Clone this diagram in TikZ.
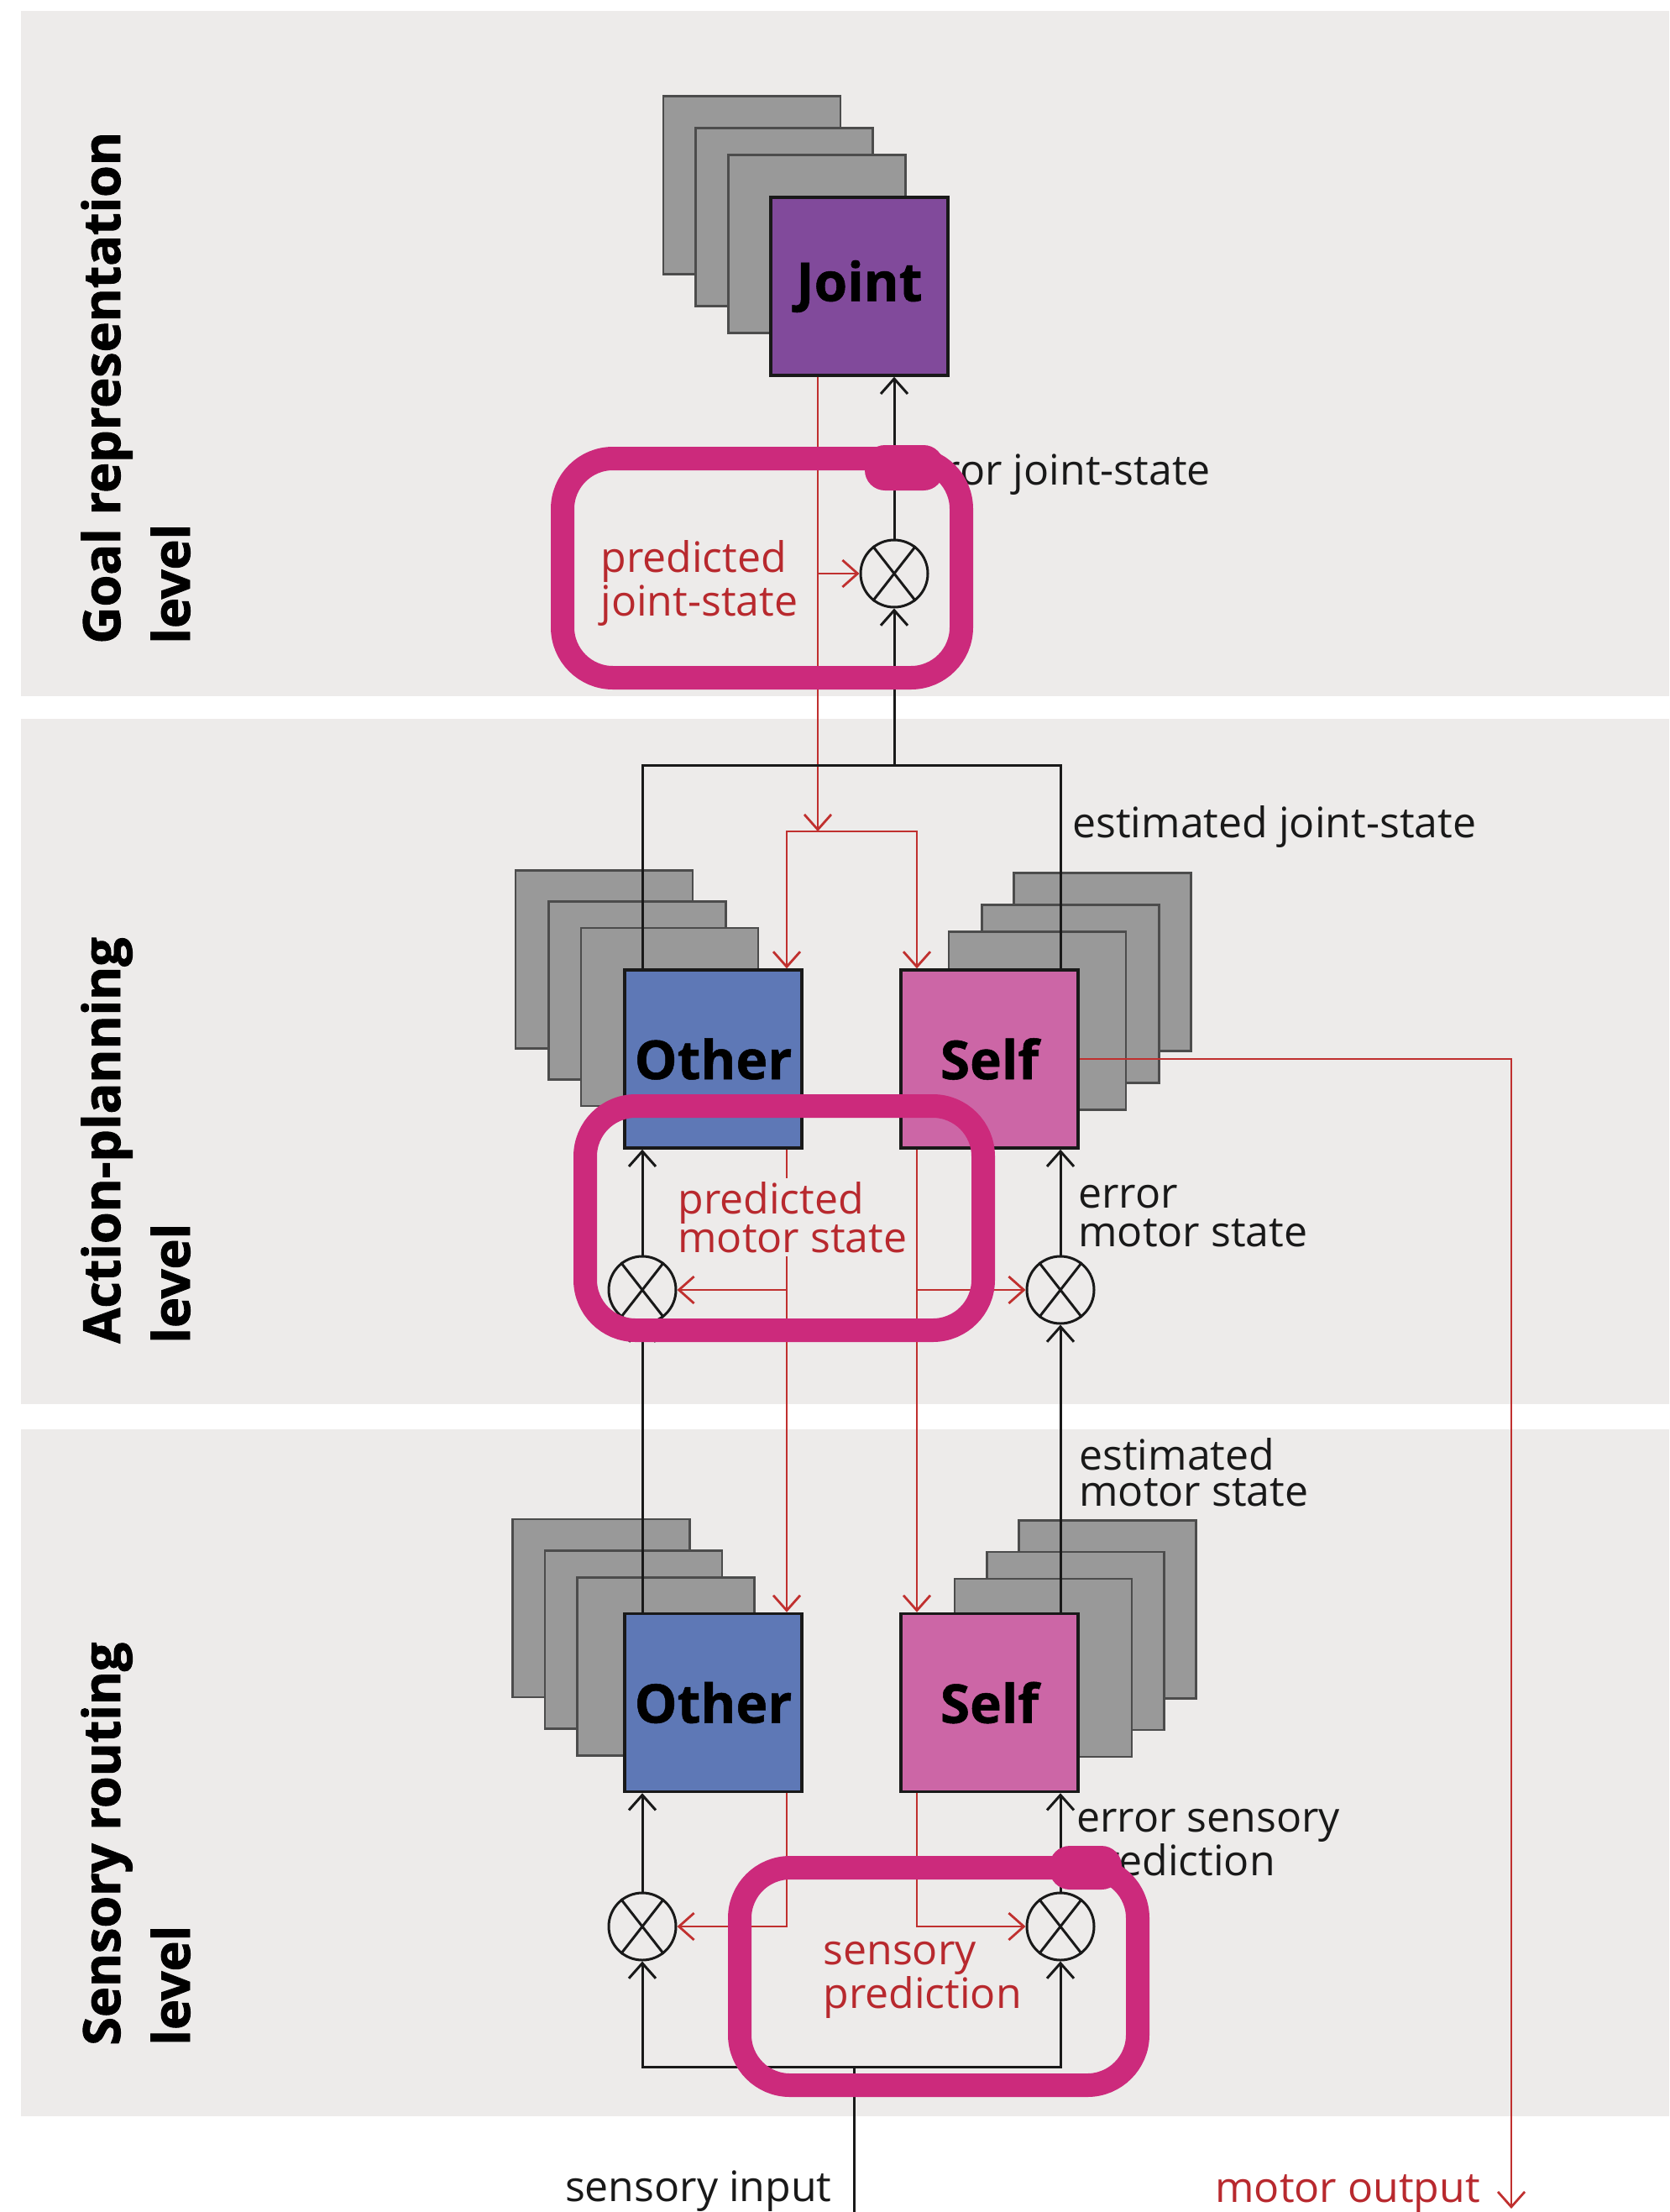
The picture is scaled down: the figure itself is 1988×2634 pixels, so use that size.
\documentclass[tikz,border=0pt]{standalone}
\usepackage{fontspec}
\setmainfont{Open Sans}
\newfontfamily\heavyfont{Open Sans}[BoldFeatures={FakeBold=1.6}]
\newfontfamily\unitfont{Open Sans}[BoldFeatures={FakeBold=0.8}]
\usetikzlibrary{arrows.meta}
\definecolor{panel}{HTML}{EDEBEA}
\definecolor{boxgray}{HTML}{999999}
\definecolor{jointc}{HTML}{814A9B}
\definecolor{otherc}{HTML}{5E78B6}
\definecolor{selfc}{HTML}{CC66A6}
\definecolor{redln}{HTML}{C0302F}
\definecolor{redtx}{HTML}{B8292E}
\definecolor{hilite}{HTML}{CC2A7C}
\tikzset{
 back/.style={draw=black!70, line width=1.3pt, fill=boxgray, minimum width=105.5pt, minimum height=106pt, inner sep=0},
 unit/.style={draw=black!90, line width=1.7pt, minimum width=105.5pt, minimum height=106pt, inner sep=0, font=\unitfont\fontsize{32}{36}\selectfont\bfseries},
 comp/.style={circle, draw=black!90, line width=1.5pt, minimum size=40pt, inner sep=0},
 bl/.style={draw=black!90, line width=1.5pt},
 rl/.style={draw=redln, line width=1.4pt},
 lab/.style={font=\fontsize{25}{22}\selectfont, text=black!90, align=left, inner sep=0, anchor=base west},
 rlab/.style={lab, text=redtx},
 lvl/.style={rotate=90, anchor=base west, inner sep=0, font=\heavyfont\fontsize{30.5}{36}\selectfont\bfseries},
 hl/.style={draw=hilite, line width=14pt, rounded corners=30pt},
 blob/.style={fill=hilite, rounded corners=12pt},
 >={Straight Barb[length=9pt,width=16pt]},
}
\begin{document}
\begin{tikzpicture}[x=0.5pt,y=-0.5pt]
\useasboundingbox (0,0) rectangle (1988,2634);
% panels
\fill[panel] (25,13) rectangle (1988,829);
\fill[panel] (25,856) rectangle (1988,1672);
\fill[panel] (25,1702) rectangle (1988,2520);
% level labels
\node[lvl] (l1a) at (143,767) {Goal representation};
\node[lvl] (l1b) at (226,767) {level};
\node[lvl] (l2a) at (143,1600) {Action-planning};
\node[lvl] (l2b) at (226,1600) {level};
\node[lvl] (l3a) at (143,2436) {Sensory routing};
\node[lvl] (l3b) at (226,2436) {level};
% goal stack
\node[back] (jg1) at (895.5,220.5) {};
\node[back] (jg2) at (934,258.5) {};
\node[back] (jg3) at (973,290.5) {};
\node[unit, fill=jointc] (jt) at (1023.5,341) {Joint};
% action stacks
\node[back] (oag1) at (719.5,1142.5) {};
\node[back] (oag2) at (759,1179.5) {};
\node[back] (oag3) at (797.5,1211) {};
\node[unit, fill=otherc] (oa) at (849.5,1261) {Other};
\node[back] (sag1) at (1313,1145.5) {};
\node[back] (sag2) at (1275,1183.5) {};
\node[back] (sag3) at (1235.5,1215.5) {};
\node[unit, fill=selfc] (sa) at (1178.5,1261) {Self};
% sensory stacks
\node[back] (osg1) at (716,1915) {};
\node[back] (osg2) at (754.5,1952.5) {};
\node[back] (osg3) at (793,1984.5) {};
\node[unit, fill=otherc] (os) at (849.5,2027.5) {Other};
\node[back] (ssg1) at (1319,1916.5) {};
\node[back] (ssg2) at (1281,1954) {};
\node[back] (ssg3) at (1242.5,1986) {};
\node[unit, fill=selfc] (ss) at (1178.5,2027.5) {Self};
% comparators
\node[comp] (cg) at (1065,683) {};
\node[comp] (cal) at (765,1536) {};
\node[comp] (car) at (1263,1536) {};
\node[comp] (csl) at (765,2294) {};
\node[comp] (csr) at (1263,2294) {};
\foreach \c in {cg,cal,car,csl,csr}{
  \draw[bl] (\c.52) -- (\c.232) (\c.128) -- (\c.308);
}
% helper coordinates
\coordinate (rj) at (974,990);
\coordinate (rL) at (937,990);
\coordinate (rR) at (1092,990);
\coordinate (bM) at (1065,911);
\coordinate (si) at (1017,2461);
\coordinate (sib) at (1017,2634);
\coordinate (mo) at (1800,2630);
% goal level connectors
\draw[rl,->] (jt.south -| rj) -- (rj);
\draw[rl,<->] (rL |- oa.north) -- (rL) -- (rR) -- (rR |- sa.north);
\draw[rl,->] (cg.west -| rj) -- (cg.west);
\draw[bl,->] (cg.north) -- (cg.north |- jt.south);
\draw[bl,->] (bM) -- (cg.south);
\draw[bl] (cal |- oa.north) -- (cal |- bM) -- (car |- bM) -- (car |- sa.north);
% action level connectors
\draw[bl,->] (cal.north) -- (cal.north |- oa.south);
\draw[bl,->] (car.north) -- (car.north |- sa.south);
\draw[bl,->] (cal.south |- os.north) -- (cal.south);
\draw[bl,->] (car.south |- ss.north) -- (car.south);
\draw[rl,->] (rL |- oa.south) -- (rL |- os.north);
\draw[rl,->] (rL |- cal.east) -- (cal.east);
\draw[rl,->] (rR |- sa.south) -- (rR |- ss.north);
\draw[rl,->] (rR |- car.west) -- (car.west);
\draw[rl,->] (sa.east) -| (mo);
% sensory level connectors
\draw[bl,->] (csl.north) -- (csl.north |- os.south);
\draw[bl,->] (csr.north) -- (csr.north |- ss.south);
\draw[rl,->] (rL |- os.south) |- (csl.east);
\draw[rl,->] (rR |- ss.south) |- (csr.west);
\draw[bl,->] (si) -| (csl.south);
\draw[bl,->] (si) -| (csr.south);
\draw[bl] (sib) -- (si);
% labels (base anchor = baseline of last line)
\node[lab] (tej) at (1075,577) {error joint-state};
\node[rlab, font=\fontsize{25}{26}\selectfont] (tpj) at (715,733) {predicted\\joint-state};
\node[lab] (tesj) at (1277,997) {estimated joint-state};
\node[rlab, font=\fontsize{25}{23}\selectfont, fill=panel, inner sep=2pt] (tpm) at (803,1491) {predicted\\motor state};
\node[lab, font=\fontsize{25}{23}\selectfont] (tem) at (1284,1484) {error\\motor state};
\node[lab, font=\fontsize{25}{21.5}\selectfont] (tesm) at (1285,1793) {estimated\\motor state};
\node[lab, font=\fontsize{25}{21}\selectfont] (tes) at (1282,2233) {error sensory\\prediction};
\node[rlab, font=\fontsize{25}{23.5}\selectfont] (tsp) at (980,2391) {sensory\\prediction};
\node[lab, anchor=base east] (tsi) at (991,2621) {sensory input};
\node[rlab] (tmo) at (1447,2622) {motor output};
% highlights
\draw[hl] (670,546) rectangle (1145,807);
\fill[blob] (1030,530) -- (1124,530) -- (1124,584) -- (1030,584) -- cycle;
\draw[hl] (697,1317) rectangle (1171,1584);
\draw[hl] (881,2224) rectangle (1355,2483);
\fill[blob] (1250,2198) -- (1336,2198) -- (1336,2250) -- (1250,2250) -- cycle;
\end{tikzpicture}
\end{document}
